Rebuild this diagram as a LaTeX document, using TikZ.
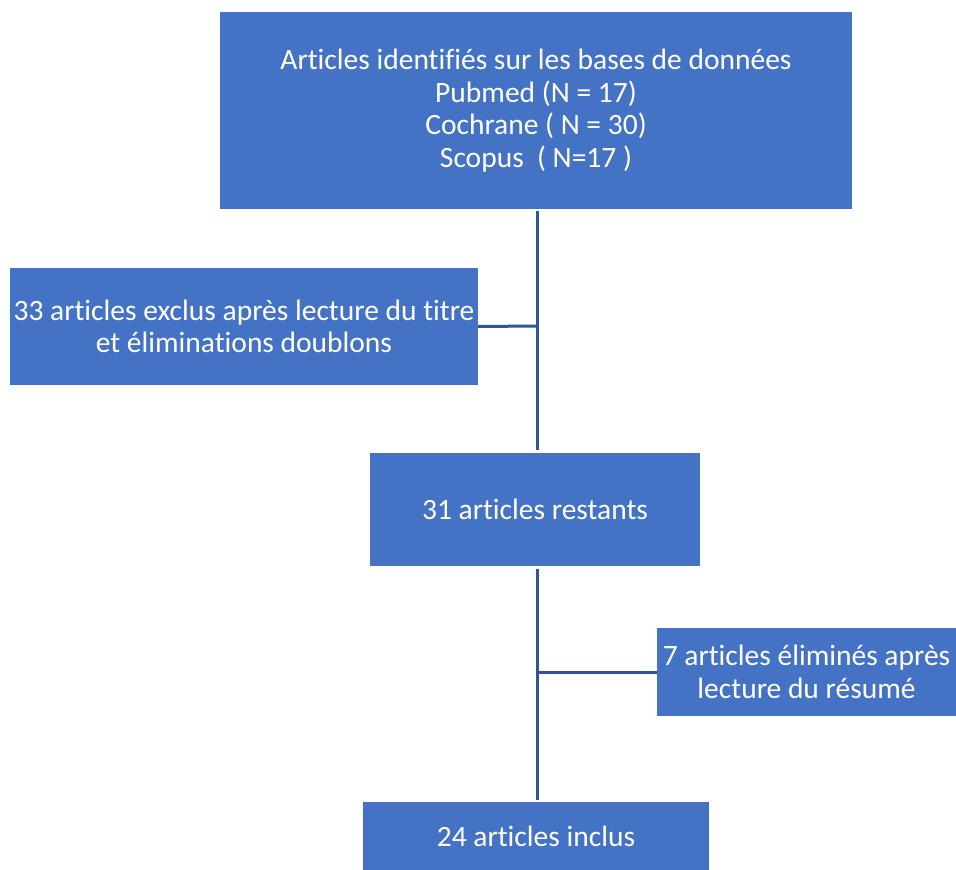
\documentclass[tikz,border=0pt]{standalone}
\usepackage{fontspec}
\setmainfont[RawFeature=-liga]{Carlito}

\definecolor{boxblue}{HTML}{4472C4}
\definecolor{lineblue}{HTML}{2F5597}

\tikzset{
    etape/.style={fill=boxblue, draw=none, text=white, align=center,
        inner sep=0pt, font=\fontsize{29.5}{32.5}\selectfont},
    lien/.style={draw=lineblue, line width=3pt}
}

\begin{document}
\begin{tikzpicture}[x=1pt, y=-1pt]
    % Marges
    \useasboundingbox (0,0) rectangle (956,870);

    % Cases
    \node[etape, minimum width=632pt, minimum height=197pt] (bases) at (536,110.5)
        {Articles identifiés sur les bases de données\\Pubmed (N = 17)\\Cochrane ( N = 30)\\Scopus\ \ ( N=17 )};
    \node[etape, minimum width=468pt, minimum height=117pt] (exclus) at (244,326.5)
        {33 articles exclus après lecture du titre\\et éliminations doublons};
    \node[etape, minimum width=330pt, minimum height=113pt] (restants) at (535,509.5)
        {31 articles restants};
    \node[etape, minimum width=299pt, minimum height=88pt] (elimines) at (806.5,672)
        {7 articles éliminés après\\lecture du résumé};
    \node[etape, minimum width=346pt, minimum height=68pt] (inclus) at (536,836)
        {24 articles inclus};

    % Jonctions
    \coordinate (j1) at (537,326);
    \coordinate (j2) at (537,672);

    % Traits
    \draw[lien] ([yshift=-2pt]bases.south -| j1) -- ([yshift=3pt]restants.north -| j1);
    \draw[lien] (exclus.east) -- (j1);
    \draw[lien] ([yshift=-3pt]restants.south -| j2) -- ([yshift=2pt]inclus.north -| j2);
    \draw[lien] (elimines.west) -- (j2);
\end{tikzpicture}
\end{document}
